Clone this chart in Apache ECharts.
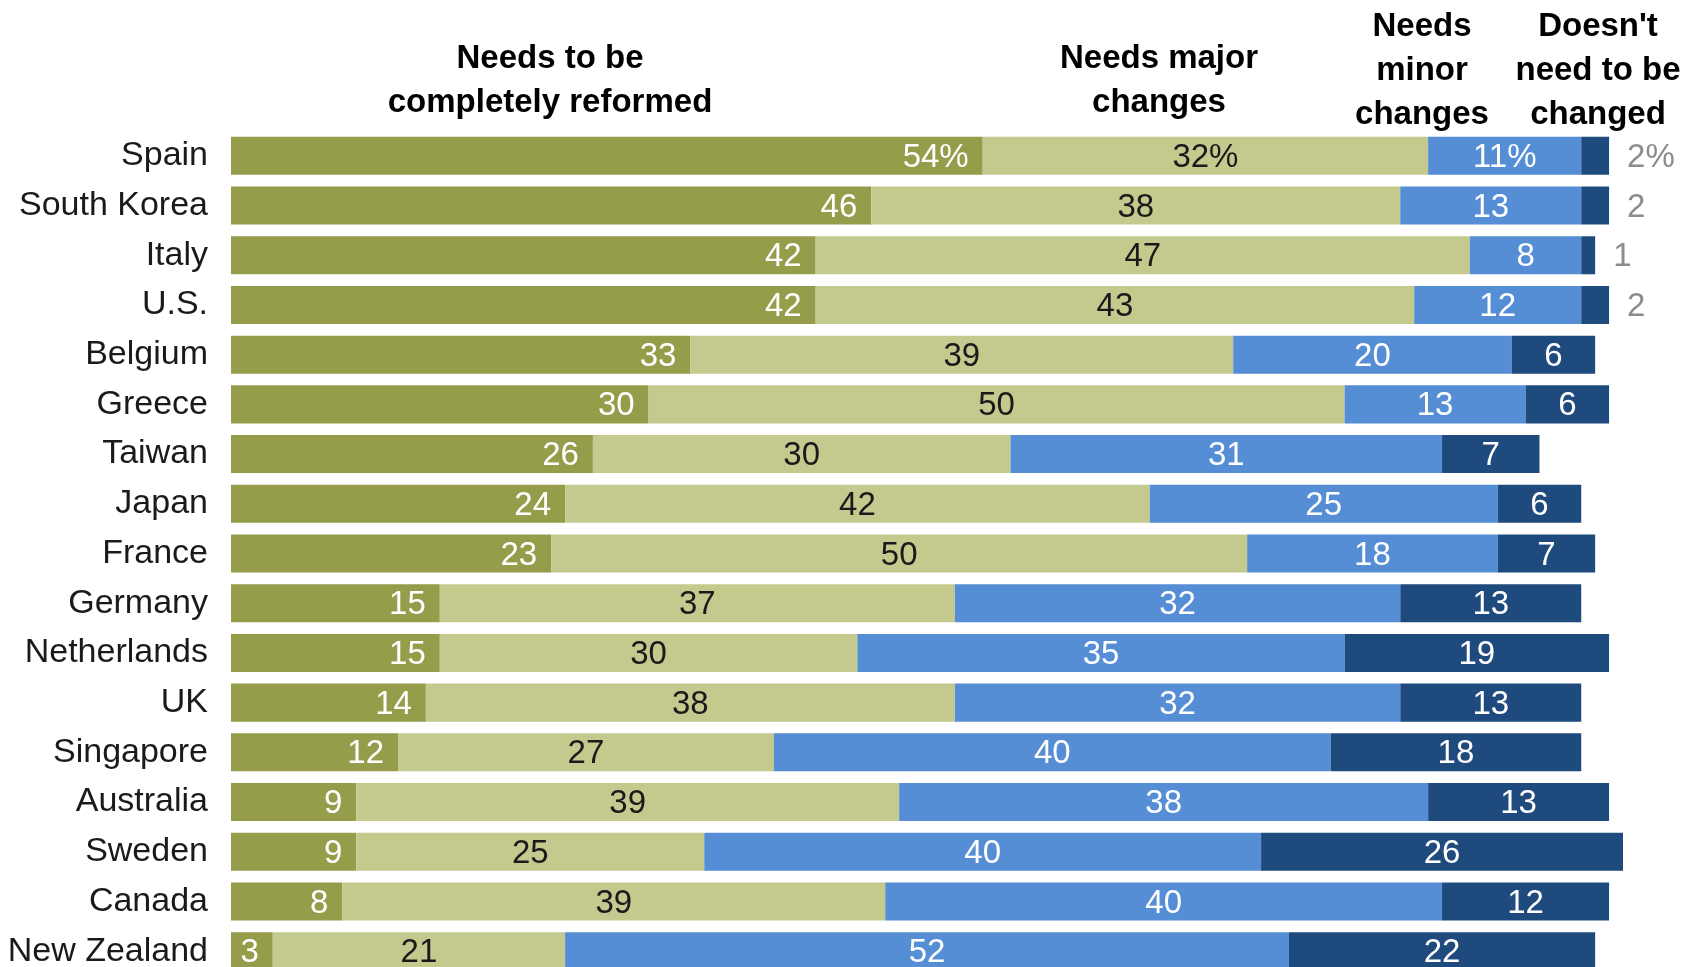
<!DOCTYPE html>
<html>
<head>
<meta charset="utf-8">
<script src="https://cdn.jsdelivr.net/npm/echarts@6/dist/echarts.min.js"></script>
<style>
html,body{margin:0;padding:0;background:#fff;overflow:hidden;}
#main{width:1705px;height:990px;}
</style>
</head>
<body>
<div id="main"></div>
<script>
const countries = ['Spain','South Korea','Italy','U.S.','Belgium','Greece','Taiwan','Japan','France','Germany','Netherlands','UK','Singapore','Australia','Sweden','Canada','New Zealand'];
const completelyReformed = [54,46,42,42,33,30,26,24,23,15,15,14,12,9,9,8,3];
const majorChanges = [32,38,47,43,39,50,30,42,50,37,30,38,27,39,25,39,21];
const minorChanges = [11,13,8,12,20,13,31,25,18,32,35,32,40,38,40,40,52];
const noChange = [2,2,1,2,6,6,7,6,7,13,19,13,18,13,26,12,22];
const seriesNames = ['Needs to be completely reformed','Needs major changes','Needs minor changes',"Doesn't need to be changed"];
const headerLabels = ['Needs to be\ncompletely reformed','Needs major\nchanges','Needs\nminor\nchanges',"Doesn't\nneed to be\nchanged"];
const outsideRows = 4; // first rows whose smallest segment label sits outside the bar

const chart = echarts.init(document.getElementById('main'));
const colors = ['#959D4A','#C4CA8D','#558ED5','#1F4A7D'];
const labelColors = ['#ffffff','#1a1a1a','#ffffff','#ffffff'];
const FONT = '"Liberation Sans", Arial, sans-serif';

function fmt(v, idx){ return idx === 0 ? v + '%' : String(v); }

function buildSeries(values, si){
  const data = values.map((v, i) => {
    const item = { value: v };
    if (si === 3 && i < outsideRows) {
      item.label = { position: 'right', distance: 18, color: '#8C8C8C' };
    }
    return item;
  });
  return {
    name: seriesNames[si],
    type: 'bar',
    stack: 'total',
    barCategoryGap: '23.5%',
    itemStyle: { color: colors[si] },
    label: {
      show: true,
      position: si === 0 ? 'insideRight' : 'inside',
      distance: 14,
      color: labelColors[si],
      fontFamily: FONT,
      fontSize: 33,
      offset: [0, 2],
      formatter: p => fmt(p.value, p.dataIndex)
    },
    emphasis: { disabled: true },
    data: data
  };
}

const headerX = [550, 1159, 1422, 1598];
const headerY = [80.5, 80.5, 71, 71];

chart.setOption({
  animation: false,
  grid: { left: 231, top: 131, width: 1392, height: 845, containLabel: false },
  xAxis: { type: 'value', min: 0, max: 100, show: false },
  yAxis: {
    type: 'category',
    inverse: true,
    data: countries,
    axisLine: { show: false },
    axisTick: { show: false },
    axisLabel: { color: '#1a1a1a', fontFamily: FONT, fontSize: 34, margin: 23 }
  },
  graphic: headerLabels.map((t, i) => ({
    type: 'text',
    x: headerX[i],
    y: headerY[i],
    style: {
      text: t,
      fill: '#000',
      font: 'bold 33px ' + FONT,
      align: 'center',
      verticalAlign: 'middle',
      lineHeight: 44
    }
  })),
  series: [
    buildSeries(completelyReformed, 0),
    buildSeries(majorChanges, 1),
    buildSeries(minorChanges, 2),
    buildSeries(noChange, 3)
  ]
});
</script>
</body>
</html>
